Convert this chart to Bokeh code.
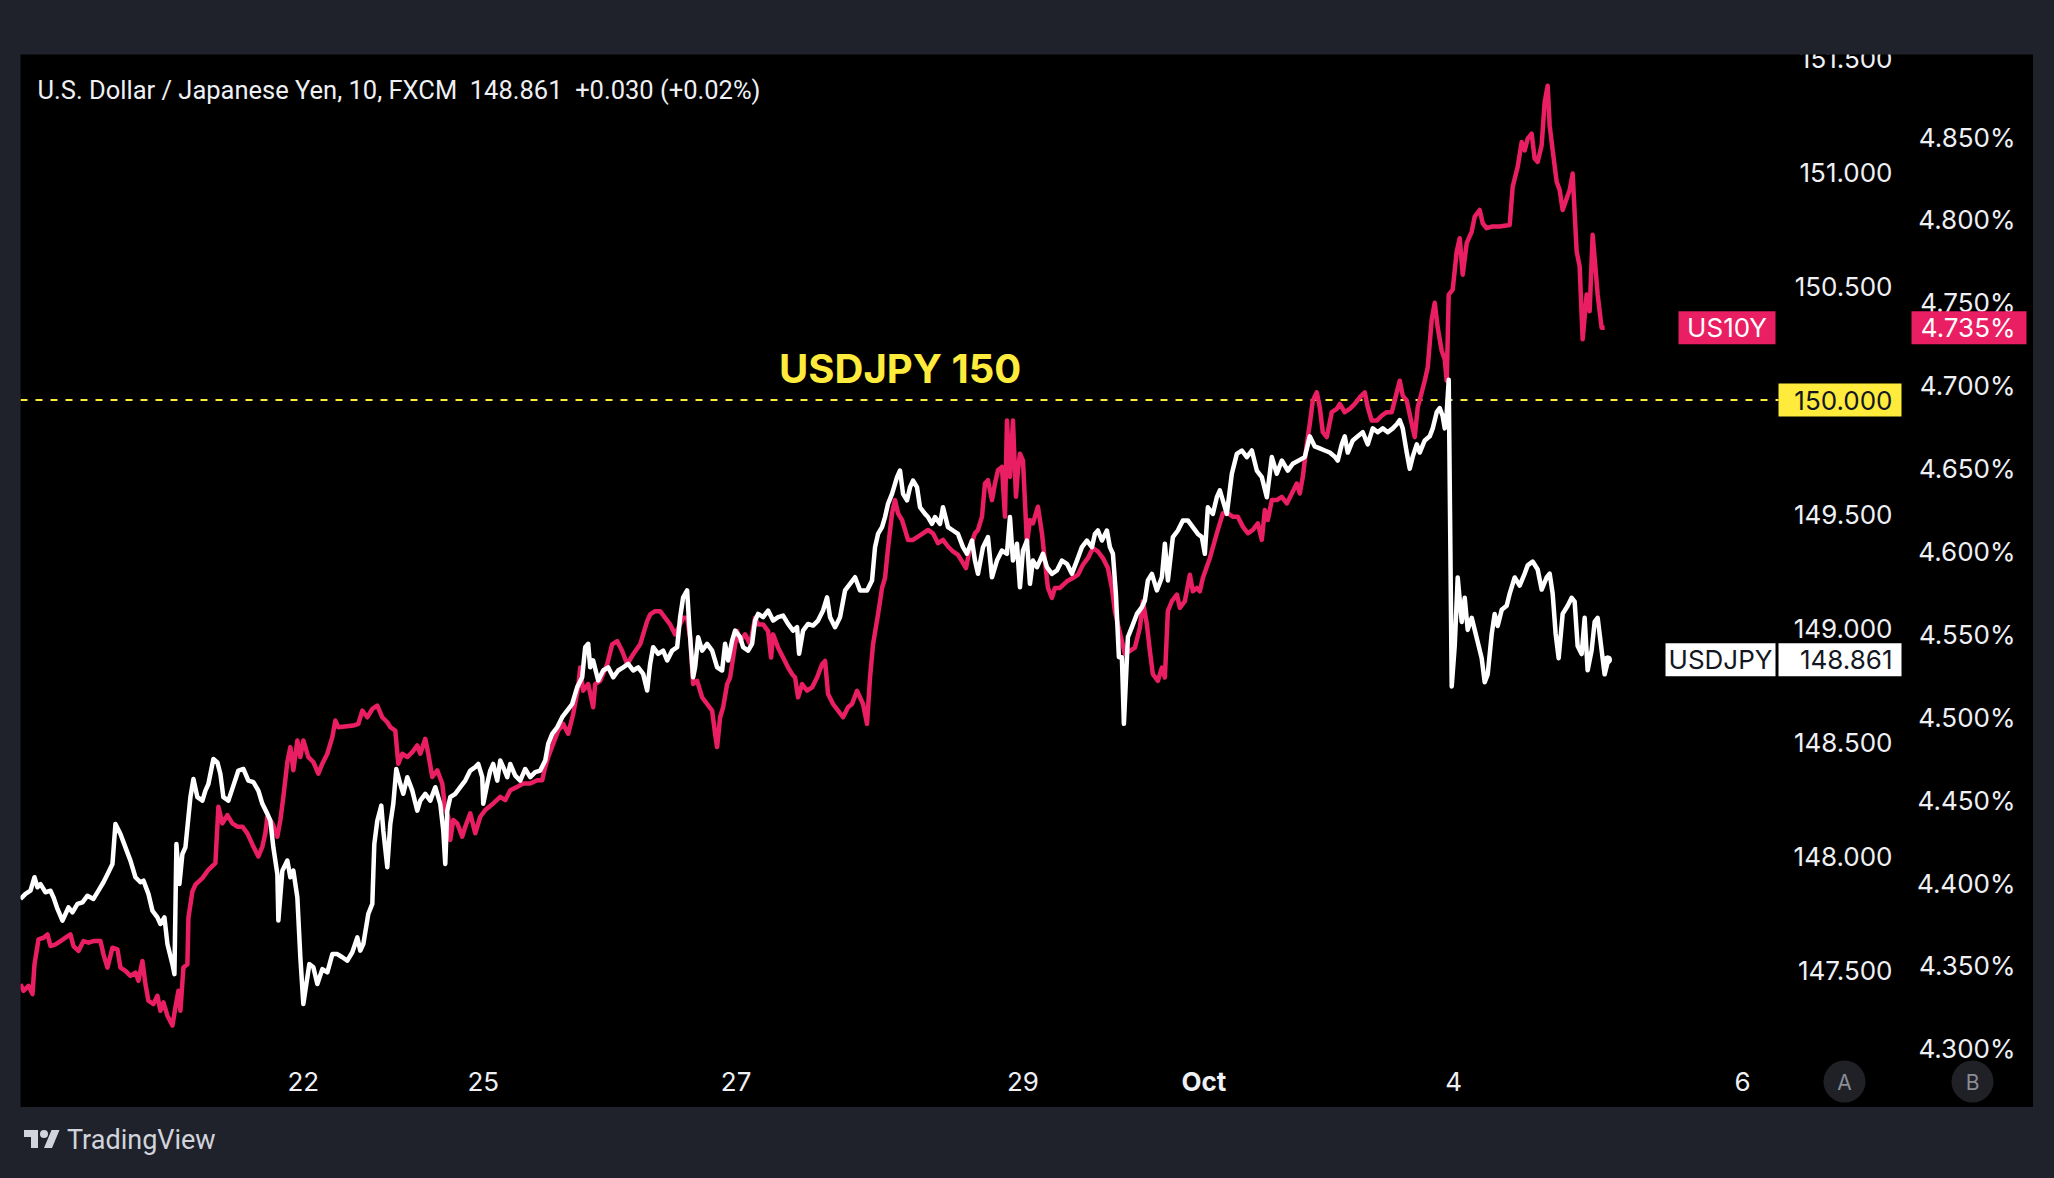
from bokeh.plotting import figure
from bokeh.models import Range1d, Div, GlobalInlineStyleSheet
from bokeh.layouts import column
from bokeh.core.properties import value
from bokeh.embed import file_html
from bokeh.resources import INLINE

# ---------------- data (10-minute bars, trading-time index) ----------------
day_ticks = [283, 463, 716, 1003, 1184, 1434, 1723]
day_labels = ["22", "25", "27", "29", "Oct", "4", "6"]

usdjpy_ticks = [147.5, 148.0, 148.5, 149.0, 149.5, 150.0, 150.5, 151.0, 151.5]
us10y_ticks = [4.30, 4.35, 4.40, 4.45, 4.50, 4.55, 4.60, 4.65, 4.70, 4.75, 4.80, 4.85]

usdjpy_t = [
    0, 5, 10, 14, 17, 20, 25, 30, 33, 37, 42, 45, 48, 52, 57, 62, 67, 73, 78, 83, 88, 92, 95, 100,
    105, 110, 115, 120, 123, 128, 132, 137, 140, 144, 147, 152, 154, 156, 159, 162, 165, 167, 170,
    173, 177, 182, 185, 188, 193, 197, 200, 203, 208, 213, 218, 223, 228, 233, 238, 242, 247, 250,
    253, 257, 258, 262, 267, 270, 273, 277, 280, 283, 286, 289, 293, 297, 302, 307, 312, 317, 322,
    327, 332, 337, 340, 343, 348, 352, 354, 357, 361, 363, 367, 370, 373, 376, 380, 383, 387, 392,
    397, 400, 405, 410, 415,
    420, 423, 425, 427, 430, 435, 440, 445, 450, 455, 458, 462, 463, 467, 470, 473, 477, 480, 483,
    487, 490, 495, 500, 505, 510, 515, 520, 525, 528, 532, 537, 542, 547, 552, 557, 562, 565, 568,
    570, 573, 578, 583, 588, 593, 598, 603, 608, 613, 618, 623, 627, 630, 633, 638, 643, 647, 652,
    657, 660, 663, 667, 669, 673, 675, 678, 682, 687, 692, 697, 702, 705, 708, 712, 715, 720, 723,
    728, 732, 735, 738, 743, 748, 753, 758, 763, 768, 773, 777, 779, 783, 788, 793, 798, 803, 807,
    810, 815, 820, 825, 830, 835,
    840, 847, 852, 855, 858, 862, 865, 868, 872, 875, 877, 880, 883, 887, 890, 893, 897, 900, 905,
    908, 912, 915, 920, 923, 928, 933, 938, 943, 947, 952, 955, 958, 963, 968, 972, 977, 982, 987,
    990, 993, 997, 1000, 1003, 1007, 1010, 1013, 1017, 1020, 1023, 1027, 1032, 1037, 1042, 1047,
    1052, 1057, 1062, 1067, 1072, 1075, 1078, 1082, 1087, 1090, 1093, 1096, 1099, 1102, 1104, 1108,
    1112, 1117, 1122, 1125, 1128, 1132, 1137, 1142, 1145, 1148, 1153, 1158, 1163, 1168, 1173, 1178,
    1182, 1185, 1188, 1193, 1197, 1200, 1203, 1207, 1212, 1217, 1222, 1227, 1232, 1237, 1242, 1247,
    1252, 1257, 1262, 1268, 1273,
    1285, 1290, 1295, 1300, 1305, 1310, 1315, 1318, 1322, 1325, 1328, 1333, 1338, 1343, 1348, 1353,
    1358, 1363, 1368, 1373, 1377, 1380, 1383, 1387, 1390, 1393, 1397, 1400, 1405, 1410, 1413, 1417,
    1420, 1423, 1425, 1427, 1429, 1432, 1435, 1438, 1442, 1445, 1448, 1452, 1455, 1458, 1462, 1465,
    1468, 1472, 1475, 1478, 1482, 1487, 1490, 1495, 1500, 1505, 1508, 1513, 1518, 1522, 1527, 1530,
    1533, 1536, 1539, 1543, 1548, 1552, 1555, 1558, 1562, 1565, 1568, 1572, 1575, 1578, 1582, 1585,
    1588,
]
usdjpy = [
    147.812, 147.834, 147.848, 147.907, 147.863, 147.877, 147.841, 147.848, 147.819, 147.768,
    147.717, 147.746, 147.775, 147.753, 147.790, 147.797, 147.826, 147.812, 147.848, 147.885,
    147.929, 147.965, 148.141, 148.097, 148.038, 147.980, 147.907, 147.885, 147.892, 147.834,
    147.760, 147.731, 147.702, 147.731, 147.614, 147.526, 147.482, 148.053, 147.877, 148.009,
    148.038, 148.126, 148.258, 148.338, 148.258, 148.243, 148.287, 148.316, 148.426, 148.411,
    148.360, 148.258, 148.243, 148.309, 148.375, 148.382, 148.331, 148.324, 148.287, 148.229,
    148.185, 148.155, 148.038, 147.921, 147.717, 147.936, 147.980, 147.907, 147.936, 147.819,
    147.556, 147.351, 147.439, 147.526, 147.512, 147.439, 147.504, 147.490, 147.570, 147.570,
    147.556, 147.541, 147.578, 147.643, 147.585, 147.614, 147.746, 147.790, 148.053, 148.155,
    148.221, 148.112, 147.951, 148.141, 148.229, 148.382, 148.316, 148.273, 148.346, 148.287,
    148.199, 148.243, 148.273, 148.243, 148.302,
    148.229, 148.112, 147.965, 148.199, 148.258, 148.273, 148.302, 148.331, 148.375, 148.390,
    148.404, 148.346, 148.229, 148.316, 148.375, 148.404, 148.331, 148.419, 148.390, 148.346,
    148.404, 148.353, 148.331, 148.382, 148.346, 148.368, 148.375, 148.419, 148.492, 148.536,
    148.565, 148.609, 148.638, 148.667, 148.741, 148.784, 148.916, 148.931, 148.828, 148.858,
    148.770, 148.814, 148.828, 148.784, 148.814, 148.828, 148.843, 148.814, 148.828, 148.799,
    148.726, 148.843, 148.916, 148.887, 148.901, 148.858, 148.901, 148.916, 149.048, 149.135,
    149.165, 149.018, 148.784, 148.828, 148.960, 148.901, 148.931, 148.901, 148.828, 148.814,
    148.931, 148.858, 148.945, 148.989, 148.960, 148.916, 148.901, 148.931, 149.033, 149.062,
    149.048, 149.077, 149.033, 149.048, 149.055, 149.018, 148.989, 149.004, 148.887, 148.989,
    149.018, 149.011, 149.033, 149.077, 149.135, 149.048, 149.004, 149.048, 149.165, 149.194,
    149.223, 149.165,
    149.165, 149.209, 149.355, 149.413, 149.443, 149.487, 149.545, 149.589, 149.633, 149.662,
    149.691, 149.589, 149.560, 149.618, 149.647, 149.618, 149.530, 149.501, 149.487, 149.457,
    149.487, 149.457, 149.530, 149.443, 149.428, 149.413, 149.355, 149.326, 149.384, 149.296,
    149.238, 149.355, 149.399, 149.223, 149.296, 149.340, 149.326, 149.487, 149.296, 149.370,
    149.179, 149.340, 149.384, 149.194, 149.296, 149.267, 149.296, 149.326, 149.267, 149.238,
    149.253, 149.296, 149.282, 149.238, 149.296, 149.355, 149.384, 149.355, 149.413, 149.428,
    149.384, 149.428, 149.355, 149.326, 149.150, 148.872, 148.872, 148.580, 148.960, 149.004,
    149.062, 149.092, 149.121, 149.209, 149.238, 149.165, 149.223, 149.370, 149.209, 149.399,
    149.428, 149.472, 149.472, 149.443, 149.413, 149.399, 149.326, 149.530, 149.501, 149.574,
    149.604, 149.560, 149.501, 149.677, 149.764, 149.779, 149.750, 149.779, 149.691, 149.662,
    149.574, 149.750, 149.677, 149.735, 149.691, 149.721, 149.750,
    149.841, 149.797, 149.788, 149.779, 149.770, 149.752, 149.735, 149.806, 149.841, 149.770,
    149.823, 149.841, 149.859, 149.806, 149.876, 149.859, 149.876, 149.859, 149.876, 149.894,
    149.912, 149.876, 149.770, 149.699, 149.752, 149.806, 149.770, 149.823, 149.841, 149.876,
    149.947, 149.965, 149.929, 149.876, 149.947, 150.089, 148.744, 148.921, 149.222, 149.027,
    149.133, 148.992, 149.045, 148.992, 148.939, 148.868, 148.762, 148.797, 148.974, 149.062,
    149.009, 149.080, 149.098, 149.151, 149.222, 149.186, 149.239, 149.275, 149.292, 149.257,
    149.169, 149.222, 149.239, 149.151, 148.974, 148.868, 149.062, 149.098, 149.133, 149.116,
    148.921, 148.886, 149.045, 148.815, 148.903, 149.027, 149.045, 148.903, 148.797, 148.850,
    148.861,
]

us10y_t = [
    0, 3, 8, 12, 14, 18, 23, 27, 30, 35, 40, 45, 50, 53, 58, 63, 68, 73, 80, 83, 87, 92, 97, 100,
    105, 110, 115, 118, 122, 125, 128, 133, 137, 140, 143, 147, 152, 155, 158, 160, 163, 167, 168,
    172, 175, 182, 188, 195, 198, 202, 207, 212, 217, 222, 227, 230, 233, 238, 242, 245, 247, 252,
    257, 260, 263, 267, 270, 273, 277, 280, 283, 288, 293, 298, 302, 307, 312, 315, 318, 333, 338,
    342, 347, 352, 357, 362, 367, 370, 375, 378, 382, 387, 392, 397, 400, 405, 408, 412, 417,
    422, 425, 428, 430, 433, 437, 442, 445, 450, 455, 460, 465, 473, 480, 485, 490, 497, 503, 510,
    517, 522, 525, 528, 533, 538, 543, 548, 553, 558, 560, 563, 568, 573, 575, 580, 587, 592, 597,
    602, 607, 613, 620, 627, 630, 635, 640, 645, 650, 655, 660, 663, 667, 670, 673, 677, 682, 687,
    692, 695, 697, 700, 703, 707, 710, 713, 717, 720, 725, 730, 735, 738, 743, 748, 751, 753, 758,
    763, 768, 772, 775, 778, 782, 787, 792, 797, 802, 805, 808, 813, 818, 823, 828, 832, 837,
    840, 843, 847, 850, 853, 858, 862, 865, 868, 872, 875, 878, 882, 885, 888, 893, 898, 903, 908,
    913, 918, 923, 928, 933, 938, 942, 946, 950, 955, 958, 962, 965, 968, 972, 975, 978, 982, 985,
    987, 990, 993, 996, 998, 1000, 1003, 1007, 1010, 1013, 1018, 1022, 1025, 1028, 1032, 1035,
    1040, 1047, 1053, 1058, 1063, 1068, 1073, 1078, 1083, 1088, 1092, 1095, 1098, 1102, 1105, 1110,
    1115, 1120, 1123, 1127, 1130, 1133, 1138, 1142, 1145, 1148, 1152, 1157, 1160, 1165, 1170, 1173,
    1177, 1180, 1183, 1190, 1197, 1203, 1208, 1213, 1218, 1223, 1228, 1233, 1238, 1242, 1245, 1248,
    1252, 1257, 1262, 1267, 1272, 1277, 1280,
    1283, 1287, 1290, 1293, 1297, 1300, 1303, 1307, 1312, 1317, 1320, 1325, 1330, 1335, 1340, 1345,
    1348, 1352, 1357, 1362, 1367, 1372, 1377, 1380, 1383, 1387, 1392, 1395, 1398, 1402, 1405, 1408,
    1412, 1415, 1418, 1422, 1425, 1427, 1429, 1433, 1437, 1440, 1443, 1447, 1452, 1455, 1460, 1463,
    1467, 1472, 1480, 1490, 1493, 1498, 1502, 1505, 1508, 1512, 1515, 1518, 1522, 1525, 1528, 1530,
    1533, 1537, 1540, 1543, 1547, 1550, 1553, 1557, 1560, 1563, 1567, 1570, 1573, 1575, 1578, 1582,
    1585,
]
us10y = [
    4.339, 4.335, 4.338, 4.333, 4.351, 4.366, 4.367, 4.369, 4.362, 4.363, 4.365, 4.367, 4.369,
    4.362, 4.359, 4.365, 4.364, 4.365, 4.365, 4.357, 4.349, 4.361, 4.360, 4.349, 4.347, 4.344,
    4.346, 4.341, 4.353, 4.339, 4.329, 4.327, 4.332, 4.323, 4.328, 4.320, 4.314, 4.325, 4.335,
    4.323, 4.349, 4.351, 4.379, 4.395, 4.399, 4.403, 4.408, 4.412, 4.446, 4.436, 4.441, 4.436,
    4.434, 4.434, 4.430, 4.426, 4.422, 4.416, 4.422, 4.430, 4.440, 4.436, 4.428, 4.438, 4.452,
    4.473, 4.482, 4.468, 4.486, 4.476, 4.486, 4.476, 4.473, 4.466, 4.472, 4.478, 4.488, 4.498,
    4.494, 4.495, 4.496, 4.504, 4.500, 4.505, 4.507, 4.500, 4.497, 4.494, 4.492, 4.472, 4.478,
    4.476, 4.479, 4.483, 4.478, 4.487, 4.478, 4.464, 4.468,
    4.460, 4.444, 4.440, 4.426, 4.438, 4.436, 4.428, 4.434, 4.442, 4.430, 4.440, 4.444, 4.448,
    4.452, 4.450, 4.456, 4.458, 4.460, 4.460, 4.462, 4.462, 4.470, 4.476, 4.484, 4.492, 4.496,
    4.490, 4.502, 4.518, 4.530, 4.516, 4.520, 4.506, 4.520, 4.522, 4.532, 4.544, 4.546, 4.540,
    4.532, 4.538, 4.544, 4.558, 4.562, 4.564, 4.564, 4.560, 4.556, 4.550, 4.556, 4.560, 4.560,
    4.548, 4.520, 4.522, 4.512, 4.508, 4.504, 4.490, 4.482, 4.500, 4.506, 4.520, 4.524, 4.536,
    4.552, 4.546, 4.550, 4.544, 4.560, 4.556, 4.556, 4.552, 4.536, 4.550, 4.542, 4.536, 4.530,
    4.526, 4.524, 4.512, 4.520, 4.516, 4.518, 4.524, 4.532, 4.534, 4.514, 4.508, 4.504, 4.500,
    4.506, 4.508, 4.516,
    4.512, 4.508, 4.496, 4.524, 4.544, 4.562, 4.578, 4.584, 4.602, 4.623, 4.631, 4.623, 4.619,
    4.613, 4.607, 4.607, 4.609, 4.611, 4.613, 4.611, 4.605, 4.607, 4.603, 4.600, 4.598, 4.594,
    4.590, 4.602, 4.611, 4.613, 4.621, 4.641, 4.643, 4.631, 4.641, 4.649, 4.651, 4.621, 4.679,
    4.645, 4.679, 4.633, 4.649, 4.659, 4.655, 4.605, 4.619, 4.617, 4.627, 4.611, 4.594, 4.578,
    4.572, 4.578, 4.578, 4.582, 4.584, 4.586, 4.592, 4.596, 4.602, 4.600, 4.596, 4.590, 4.578,
    4.564, 4.556, 4.546, 4.538, 4.540, 4.542, 4.554, 4.570, 4.556, 4.540, 4.526, 4.522, 4.530,
    4.524, 4.564, 4.570, 4.574, 4.566, 4.570, 4.586, 4.576, 4.578, 4.576, 4.584, 4.596, 4.611,
    4.623, 4.623, 4.621, 4.621, 4.615, 4.611, 4.613, 4.617, 4.607, 4.625, 4.619, 4.631, 4.631,
    4.633, 4.629, 4.635, 4.641, 4.635,
    4.645, 4.665, 4.677, 4.691, 4.696, 4.687, 4.672, 4.669, 4.684, 4.686, 4.689, 4.684, 4.686,
    4.689, 4.693, 4.696, 4.687, 4.679, 4.679, 4.682, 4.684, 4.684, 4.696, 4.703, 4.694, 4.691,
    4.677, 4.669, 4.687, 4.696, 4.703, 4.711, 4.740, 4.750, 4.735, 4.721, 4.716, 4.703, 4.755,
    4.758, 4.781, 4.789, 4.767, 4.786, 4.793, 4.802, 4.806, 4.798, 4.795, 4.796, 4.796, 4.797,
    4.820, 4.832, 4.847, 4.842, 4.849, 4.852, 4.837, 4.835, 4.845, 4.871, 4.881, 4.857, 4.842,
    4.823, 4.818, 4.806, 4.813, 4.818, 4.828, 4.781, 4.772, 4.728, 4.755, 4.745, 4.791, 4.777,
    4.755, 4.735, 4.735,
]

level_150 = 150.0
level_label = "USDJPY 150"
last_usdjpy = 148.861
last_us10y = 4.735
title_text = "U.S. Dollar / Japanese Yen, 10, FXCM \u00a0148.861 \u00a0+0.030 (+0.02%)"

# ---------------- styling / layout constants (pixels inside the black panel) ----------------
PINK = "#e91e63"
YELLOW = "#ffeb3b"
TXT = "#eef0f4"
FONT = value("Inter")
FS = value("26px")
PANEL_W, PANEL_H = 2013, 1053
PANE_END = 1759          # last bar index visible in the price pane
JPY_RIGHT = 1872         # right edge of USDJPY scale labels
Y10_RIGHT = 1995         # right edge of US10Y scale labels
DATE_ROW = 1027          # vertical centre of date labels (px from top)

p = figure(width=PANEL_W, height=PANEL_H,
           x_range=Range1d(0, 2014.1), y_range=Range1d(146.897, 151.516),
           output_backend="svg", toolbar_location=None,
           x_axis_location=None, y_axis_location=None,
           min_border_left=0, min_border_right=0, min_border_top=0, min_border_bottom=0)
p.extra_y_ranges = {"y10": Range1d(4.2646, 4.8998), "px": Range1d(PANEL_H, 0)}
p.extra_x_ranges = {"px": Range1d(0, PANEL_W)}
p.background_fill_color = "black"
p.border_fill_color = "black"
p.outline_line_color = None
p.grid.visible = False
p.margin = (54, 0, 0, 20)

# ---- price scales (drawn through the figure's scales) ----
p.text(x=[JPY_RIGHT] * len(usdjpy_ticks), y=usdjpy_ticks, text=["%.3f" % v for v in usdjpy_ticks],
       x_range_name="px", text_align="right", text_baseline="middle", text_color=TXT,
       text_font=FONT, text_font_size=FS)
p.text(x=[Y10_RIGHT] * len(us10y_ticks), y=us10y_ticks, text=["%.3f%%" % v for v in us10y_ticks],
       x_range_name="px", y_range_name="y10", text_align="right", text_baseline="middle",
       text_color=TXT, text_font=FONT, text_font_size=FS)

# ---- time scale ----
norm = [(t, l) for t, l in zip(day_ticks, day_labels) if l != "Oct"]
bold = [(t, l) for t, l in zip(day_ticks, day_labels) if l == "Oct"]
p.text(x=[t for t, _ in norm], y=[DATE_ROW] * len(norm), text=[l for _, l in norm],
       y_range_name="px", text_align="center", text_baseline="middle", text_color=TXT,
       text_font=FONT, text_font_size=FS)
p.text(x=[t for t, _ in bold], y=[DATE_ROW] * len(bold), text=[l for _, l in bold],
       y_range_name="px", text_align="center", text_baseline="middle", text_color=TXT,
       text_font=FONT, text_font_size=FS, text_font_style="bold")

# A / B buttons
p.scatter(x=[1824, 1952], y=[DATE_ROW, DATE_ROW], x_range_name="px", y_range_name="px",
          size=42, marker="circle", fill_color="#202127", line_color=None)
p.text(x=[1824, 1952], y=[DATE_ROW + 1, DATE_ROW + 1], text=["A", "B"], x_range_name="px",
       y_range_name="px", text_align="center", text_baseline="middle", text_color="#8a8d96",
       text_font=FONT, text_font_size=value("21px"))

# ---- 150 level ----
p.segment(x0=[0], x1=[PANE_END], y0=[level_150], y1=[level_150], line_color=YELLOW,
          line_width=2, line_dash="7 8")
p.text(x=[759], y=[150.138], text=[level_label], text_align="left", text_baseline="middle",
       text_color=YELLOW, text_font=FONT, text_font_size=value("40px"), text_font_style="bold")

# ---- series ----
p.line(us10y_t, us10y, y_range_name="y10", line_color=PINK, line_width=4.5, line_join="round")
p.line(usdjpy_t, usdjpy, line_color="white", line_width=4.5, line_join="round")
p.scatter([usdjpy_t[-1]], [usdjpy[-1]], size=8, color="white")

# ---- title ----
p.text(x=[17], y=[35], text=[title_text], x_range_name="px", y_range_name="px",
       text_align="left", text_baseline="middle", text_color=TXT,
       text_font=value("Roboto"), text_font_size=value("25.5px"))

# ---- price tags ----
TAG_H = 33
# US10Y name + value (pink)
p.rect(x=[1706.5, 1948.5], y=[last_us10y, last_us10y], width=[97, 115], height=TAG_H,
       width_units="screen", height_units="screen", x_range_name="px", y_range_name="y10",
       fill_color=PINK, line_color=None)
p.text(x=[1706.5], y=[last_us10y], text=["US10Y"], x_range_name="px", y_range_name="y10",
       text_align="center", text_baseline="middle", text_color="white", text_font=FONT,
       text_font_size=FS)
p.text(x=[Y10_RIGHT], y=[last_us10y], text=["%.3f%%" % last_us10y], x_range_name="px",
       y_range_name="y10", text_align="right", text_baseline="middle", text_color="white",
       text_font=FONT, text_font_size=FS)
# 150.000 (yellow)
p.rect(x=[1819.5], y=[level_150], width=123, height=TAG_H, width_units="screen",
       height_units="screen", x_range_name="px", fill_color=YELLOW, line_color=None)
p.text(x=[JPY_RIGHT], y=[level_150], text=["%.3f" % level_150], x_range_name="px",
       text_align="right", text_baseline="middle", text_color="#131722", text_font=FONT,
       text_font_size=FS)
# USDJPY name + value (white)
p.rect(x=[1700, 1819.5], y=[last_usdjpy, last_usdjpy], width=[110, 123], height=TAG_H,
       width_units="screen", height_units="screen", x_range_name="px",
       fill_color="white", line_color=None)
p.text(x=[1700], y=[last_usdjpy], text=["USDJPY"], x_range_name="px", text_align="center",
       text_baseline="middle", text_color="#131722", text_font=FONT, text_font_size=FS)
p.text(x=[JPY_RIGHT], y=[last_usdjpy], text=["%.3f" % last_usdjpy], x_range_name="px",
       text_align="right", text_baseline="middle", text_color="#131722", text_font=FONT,
       text_font_size=FS)

footer = Div(text=(
    '<div style="display:flex;align-items:center;height:40px;color:#d1d4dc;'
    'font-family:Roboto;font-size:27px;">'
    '<svg width="36" height="28" viewBox="0 0 36 28" style="margin-right:7px">'
    '<path fill="#d1d4dc" d="M14 22H7V11H0V4h14v18zM28 22h-8l7.5-18h8L28 22z"/>'
    '<circle fill="#d1d4dc" cx="20" cy="8" r="4"/></svg>TradingView</div>'),
    width=300, height=40, margin=(13, 0, 0, 24))

layout = column(p, footer)
layout.stylesheets = [GlobalInlineStyleSheet(css="html, body { background-color: #1f222b; }")]

open("out.html", "w").write(file_html(layout, INLINE, title="USDJPY vs US10Y"))
